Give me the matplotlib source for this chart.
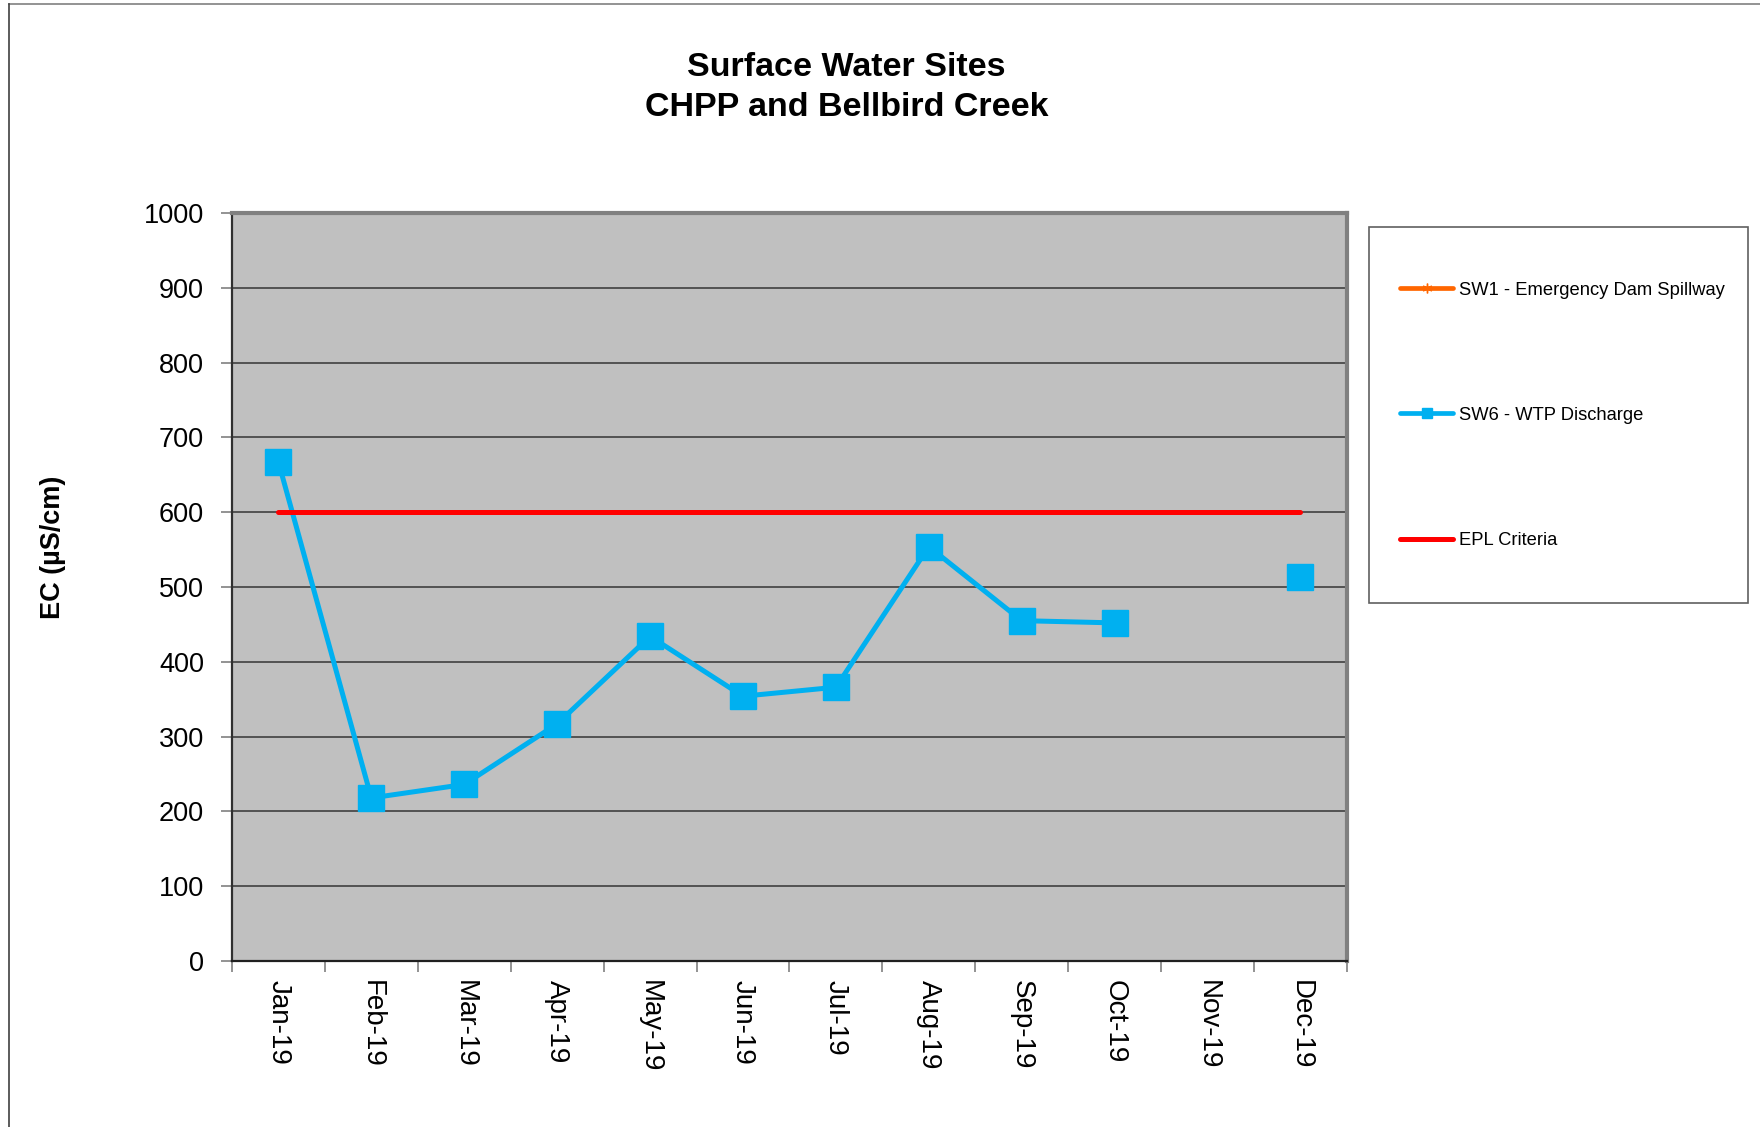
import numpy as np
import matplotlib.pyplot as plt
from matplotlib.lines import Line2D
from matplotlib.patches import Rectangle

plt.rcParams['font.family'] = ['Liberation Sans', 'DejaVu Sans']

months = ['Jan-19', 'Feb-19', 'Mar-19', 'Apr-19', 'May-19', 'Jun-19',
          'Jul-19', 'Aug-19', 'Sep-19', 'Oct-19', 'Nov-19', 'Dec-19']
sw1 = [np.nan] * 12
sw6 = [667, 218, 236, 317, 434, 354, 366, 554, 455, 452, np.nan, 513]
epl = [600] * 12

x = np.arange(len(months))

fig = plt.figure(figsize=(17.6, 11.27), dpi=100)
ax = fig.add_axes([0.1318, 0.1473, 0.6335, 0.6637])
ax.set_facecolor('#c0c0c0')

ax.plot(x, sw1, color='#ff6600', lw=3.4, marker=(6, 2, 0), ms=7)
ax.plot(x, sw6, color='#00b0f0', lw=3.6, marker='s', ms=19, zorder=3)
ax.plot(x, epl, color='#ff0000', lw=3.6, solid_capstyle='round', zorder=4)

ax.set_xlim(-0.5, 11.5)
ax.set_ylim(0, 1000)
ax.set_yticks(np.arange(0, 1001, 100))
ax.yaxis.grid(True, color='#404040', lw=1.2)
ax.set_axisbelow(True)

# ticks between categories, labels at category centres
ax.set_xticks(np.arange(-0.5, 12, 1))
ax.set_xticklabels([])
ax.set_xticks(x, minor=True)
ax.set_xticklabels(months, minor=True, rotation=270, fontsize=20,
                   va='top', ha='center')
ax.tick_params(axis='x', which='major', length=8, width=1.2, color='#808080',
               direction='out')
ax.tick_params(axis='x', which='minor', length=0, pad=14)
ax.tick_params(axis='y', length=8, width=1.2, color='#808080', labelsize=19.5,
               pad=12)

ax.spines['top'].set_color('#808080')
ax.spines['top'].set_linewidth(3)
ax.spines['right'].set_color('#808080')
ax.spines['right'].set_linewidth(3)
ax.spines['left'].set_color('#303030')
ax.spines['left'].set_linewidth(1.6)
ax.spines['bottom'].set_color('#202020')
ax.spines['bottom'].set_linewidth(1.6)

fig.text(0.481, 0.9225, 'Surface Water Sites\nCHPP and Bellbird Creek',
         ha='center', va='center', fontsize=24.5, fontweight='bold',
         linespacing=1.36)
fig.text(0.030, 0.514, 'EC (µS/cm)', rotation=90, ha='center', va='center',
         fontsize=19.5, fontweight='bold')

# legend box
fig.patches.append(Rectangle((0.7778, 0.465), 0.2153, 0.3336,
                             transform=fig.transFigure, facecolor='white',
                             edgecolor='#606060', lw=1.2))
handles = [
    Line2D([], [], color='#ff6600', lw=3.4, marker=(6, 2, 0), ms=7,
           solid_capstyle='round'),
    Line2D([], [], color='#00b0f0', lw=3.4, marker='s', ms=7,
           solid_capstyle='round'),
    Line2D([], [], color='#ff0000', lw=3.6, solid_capstyle='round'),
]
labels = ['SW1 - Emergency Dam Spillway', 'SW6 - WTP Discharge', 'EPL Criteria']
fig.legend(handles, labels, loc='upper left', bbox_to_anchor=(0.7955, 0.750),
           frameon=False, fontsize=13.2, labelspacing=5.9, handlelength=2.9,
           handletextpad=0.3, borderpad=0, borderaxespad=0)

# figure border
fig.add_artist(Line2D([0.005, 1], [0.9965, 0.9965], color='#808080', lw=1.2,
                      transform=fig.transFigure))
fig.add_artist(Line2D([0.005, 0.005], [0, 0.9965], color='#404040', lw=1.2,
                      transform=fig.transFigure))

plt.savefig('out.png', dpi=100)
